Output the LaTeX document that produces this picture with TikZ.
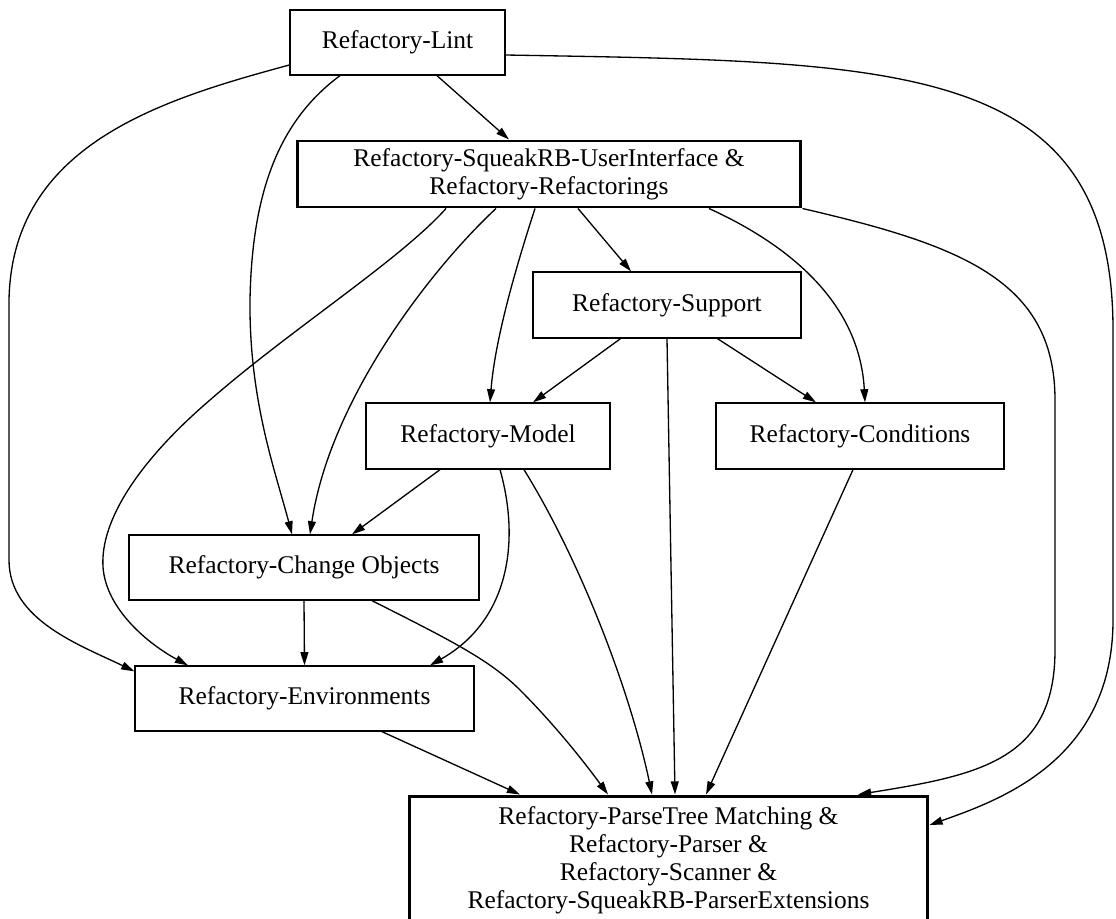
\documentclass[tikz,border=0pt]{standalone}
\usepackage{fontspec}
\setmainfont{Liberation Serif}
\usepackage{tikz}
\usetikzlibrary{arrows.meta}
\tikzset{
  % Base styles
  graph base/.style={
    x=0.02cm, y=-0.02cm,
    >={Triangle[length=7.5pt,width=4.5pt]},
    every node/.style={font=\fontsize{14.5}{15.9}\selectfont},
  },
  % Package nodes
  pkg node/.style={rectangle, draw, line width=0.75pt, inner sep=0pt, align=center, fill=white},
  merged node/.style={pkg node, line width=1.7pt},
  % Dependency edges
  dep edge/.style={->, line width=0.75pt},
}

\begin{document}
\begin{tikzpicture}[graph base]
\useasboundingbox (0,0) rectangle (1116,919);
\clip (0,0) rectangle (1116,919);

% Top node
\node[pkg node, minimum width=4.30cm, minimum height=1.30cm] (lint) at (397.5,42.5) {Refactory-Lint};
\node[merged node, minimum width=10.08cm, minimum height=1.32cm] (ui) at (549,174)
  {Refactory-SqueakRB-UserInterface \&\\ Refactory-Refactorings};

% Middle layers
\node[pkg node, minimum width=5.36cm, minimum height=1.32cm] (support) at (667,305) {Refactory-Support};
\node[pkg node, minimum width=4.88cm, minimum height=1.32cm] (model) at (488,436) {Refactory-Model};
\node[pkg node, minimum width=5.76cm, minimum height=1.32cm] (conditions) at (860,436) {Refactory-Conditions};
\node[pkg node, minimum width=7.00cm, minimum height=1.30cm] (change) at (304,567.5) {Refactory-Change Objects};
\node[pkg node, minimum width=6.78cm, minimum height=1.30cm] (env) at (304.5,698.5) {Refactory-Environments};

% Bottom node (runs off the page)
\node[merged node, minimum width=10.38cm, minimum height=2.56cm] (parse) at (668.5,860)
  {Refactory-ParseTree Matching \&\\ Refactory-Parser \&\\ Refactory-Scanner \&\\ Refactory-SqueakRB-ParserExtensions};

% Edges from Lint
\draw[dep edge] ([xshift=0.79cm]lint.south) -- ([xshift=-0.8cm]ui.north);
\draw[dep edge] ([yshift=-0.45cm]lint.west) .. controls (160,100) and (12,145) .. (9,300)
  -- (9,560) .. controls (9,620) and (80,645) .. ([yshift=-0.12cm]env.north west);
\draw[dep edge] ([xshift=-1.15cm]lint.south) .. controls (280,120) and (252,190) .. (250,300)
  .. controls (249,400) and (275,470) .. ([xshift=-0.24cm]change.north);
\draw[dep edge] ([yshift=-0.25cm]lint.east) .. controls (900,62) and (1113,60) .. (1113,330)
  -- (1113,620) .. controls (1113,760) and (1000,800) .. ([yshift=0.7cm]parse.east);

% Edges from the user interface
\draw[dep edge] ([xshift=0.58cm]ui.south) -- ([xshift=-0.72cm]support.north);
\draw[dep edge] ([xshift=-0.28cm]ui.south) .. controls (515,270) and (495,340) .. ([xshift=0.04cm]model.north);
\draw[dep edge] ([xshift=-1.06cm]ui.south) .. controls (430,270) and (330,400) .. ([xshift=0.12cm]change.north);
\draw[dep edge] ([xshift=-2.06cm]ui.south) .. controls (400,260) and (290,330) .. (210,400)
  .. controls (140,460) and (100,520) .. (103,567)
  .. controls (106,610) and (150,645) .. ([xshift=-2.33cm]env.north);
\draw[dep edge] ([xshift=3.2cm]ui.south) .. controls (800,250) and (860,310) .. ([xshift=0.1cm]conditions.north);
\draw[dep edge] (ui.south east) .. controls (960,245) and (1055,280) .. (1055,400)
  -- (1055,650) .. controls (1055,760) and (980,775) .. ([xshift=3.79cm]parse.north);

% Edges from Support
\draw[dep edge] ([xshift=-0.93cm]support.south) -- ([xshift=0.9cm]model.north);
\draw[dep edge] ([xshift=1.01cm]support.south) -- ([xshift=-0.88cm]conditions.north);
\draw[dep edge] (support.south) -- ([xshift=0.13cm]parse.north);

% Edges from Model and Conditions
\draw[dep edge] ([xshift=-0.96cm]model.south) -- ([xshift=0.96cm]change.north);
\draw[dep edge] ([xshift=0.24cm]model.south) .. controls (520,540) and (510,620) .. ([xshift=2.51cm]env.north);
\draw[dep edge] ([xshift=0.72cm]model.south) .. controls (580,560) and (630,690) .. ([xshift=-0.33cm]parse.north);
\draw[dep edge] ([xshift=-0.14cm]conditions.south) -- ([xshift=0.75cm]parse.north);

% Edges from Change Objects and Environments
\draw[dep edge] (change.south) -- (env.north);
\draw[dep edge] ([xshift=1.36cm]change.south) .. controls (450,640) and (490,660) .. (520,690)
  .. controls (560,730) and (590,770) .. ([xshift=-1.21cm]parse.north);
\draw[dep edge] ([xshift=1.55cm]env.south) -- ([xshift=-2.97cm]parse.north);
\end{tikzpicture}
\end{document}
